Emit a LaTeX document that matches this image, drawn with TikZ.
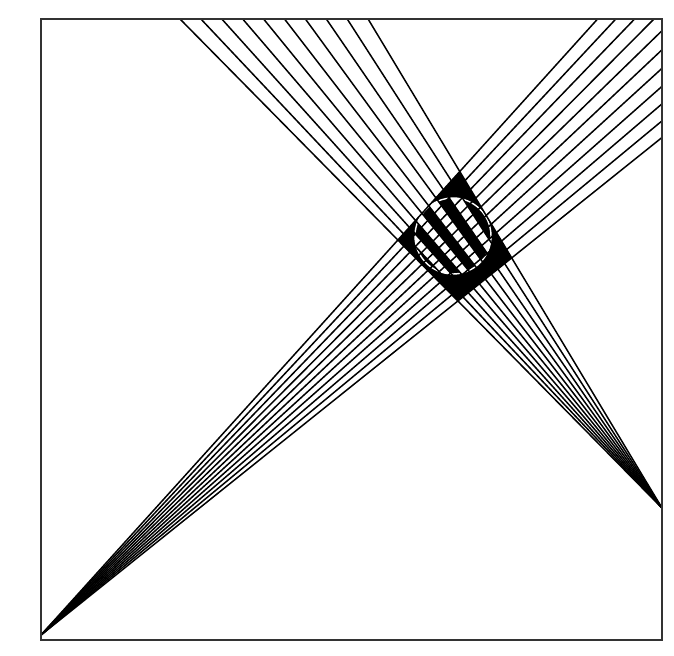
\documentclass[tikz,border=0pt]{standalone}
\usetikzlibrary{calc}

\begin{document}
\begin{tikzpicture}[x=0.02cm, y=0.02cm,
  ray/.style={line width=0.85pt, black},
  frame/.style={line width=1pt, black!80},
  strip/.style={fill=white},
]
\useasboundingbox (0,0) rectangle (674,656);
%% ── Frame, sources and object ──────────────────────────────────────────
\coordinate (BL)   at (41,16);
\coordinate (TR)   at (662,637);
\coordinate (srcA) at (41,21);
\coordinate (srcB) at (662,148);
\coordinate (obj)  at (453,420);

%% ── Overlap of both fans ────────────────────────────────────────────────
\begin{scope}
  \clip (srcA) -- ($(srcA)+(47.9:1200)$) -- ($(srcA)+(38.7:1200)$) -- cycle;
  \fill[black] (srcB) -- (180,637) -- (368.1,637) -- cycle;
\end{scope}

%% ── Object: alternate strips of fan B ───────────────────────────────────
\begin{scope}
  \clip (obj) circle (38);
  \foreach \i in {1,3,5,7}
    \fill[strip] (srcB) -- ({180+20.9*\i},637) -- ({180+20.9*(\i+1)},637) -- cycle;
\end{scope}
\draw[white, line width=0.8pt] (obj) circle (38);

%% ── Fan A (bottom left) ─────────────────────────────────────────────────
\begin{scope}
  \clip (BL) rectangle (TR);
  \foreach \a in {0,...,10}
    \draw[ray] (srcA) -- ++({47.9-0.92*\a}:1200);
\end{scope}

%% ── Fan B (right) ───────────────────────────────────────────────────────
\foreach \i in {0,...,9}
  \draw[ray] (srcB) -- ({180+20.9*\i},637);

\draw[frame] (BL) rectangle (TR);
\end{tikzpicture}
\end{document}
